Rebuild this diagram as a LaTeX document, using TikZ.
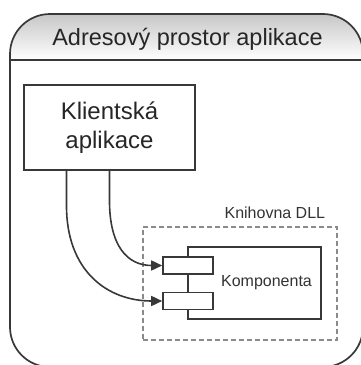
\documentclass[tikz,border=0pt]{standalone}
\usepackage{fontspec}
\setmainfont{Liberation Sans}
\usetikzlibrary{arrows.meta,positioning}

\definecolor{linegray}{HTML}{383838}
\definecolor{dashgray}{HTML}{8A8A8A}

\tikzset{
  box/.style={draw=linegray, line width=1.6pt, fill=white},
  port/.style={box, minimum width=50pt, minimum height=17pt, inner sep=0pt},
  bigtext/.style={font=\fontsize{24}{29}\selectfont, text=black!85},
  smalltext/.style={font=\fontsize{16}{19}\selectfont, text=black!80},
  conn/.style={->, linegray, line width=1.6pt}
}

\begin{document}
\begin{tikzpicture}[x=1pt, y=-1pt, >={Triangle[length=11pt,width=10pt]}]
        \useasboundingbox (0,0) rectangle (361,365);

        % address space
        \begin{scope}
          \clip[rounded corners=40pt] (10,14) rectangle (363,367);
          \shade[top color=black!22, bottom color=white] (10,14) rectangle (363,60);
        \end{scope}
        \draw[linegray, line width=1.7pt, rounded corners=40pt] (10,14) rectangle (363,367);
        \draw[linegray, line width=2.2pt] (10,60) -- (363,60);
        \node[bigtext, font=\fontsize{23.5}{28}\selectfont, anchor=base] at (187.5,45) (title) {Adresový prostor aplikace};

        \node[box, bigtext, align=center, minimum width=171pt, minimum height=85pt,
              inner sep=0pt] at (109.5,127.5) (klient) {Klientská\\aplikace};

        % DLL
        \node[draw=dashgray, dashed, dash pattern=on 5pt off 3pt, line width=1.3pt,
              minimum width=194pt, minimum height=113pt, inner sep=0pt] at (240,283.5) (dll) {};
        \node[smalltext, anchor=base east] at ([xshift=-9pt, yshift=8pt]dll.north east) (dllname) {Knihovna DLL};

        \node[box, minimum width=133pt, minimum height=72pt, inner sep=0pt] at (254.5,283) (komp) {};
        \node[smalltext] at ([xshift=12pt]komp.center) (kompname) {Komponenta};
        \node[port] at (188,265.5) (port1) {};
        \node[port] at (188,301) (port2) {};

        \draw[conn] (klient.south) -- ++(0,30)
          .. controls +(0,45) and +(-35,0) .. (port1.west);
        \draw[conn] ([xshift=-43pt]klient.south) -- ++(0,35)
          .. controls +(0,65) and +(-55,0) .. (port2.west);
\end{tikzpicture}
\end{document}
